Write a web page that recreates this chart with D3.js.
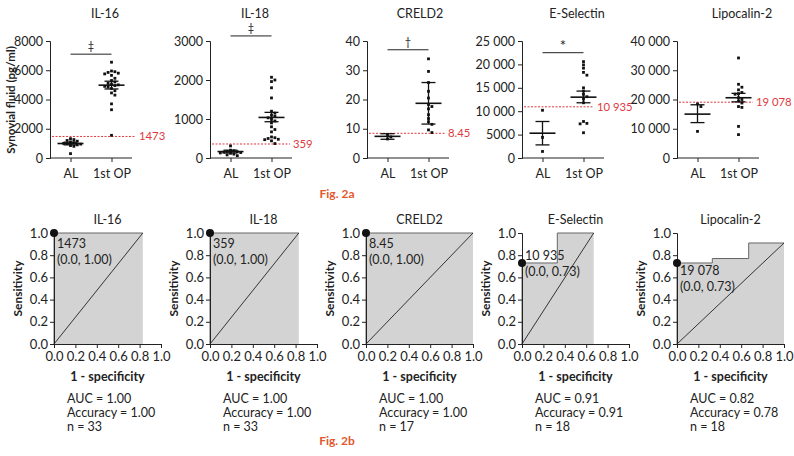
<!DOCTYPE html>
<html><head><meta charset="utf-8">
<script src="https://cdn.jsdelivr.net/npm/d3@7"></script>
<style>body{margin:0;background:#fff}svg{display:block}text{font-family:Lato,"Open Sans",sans-serif;fill:#222}</style>
</head><body><svg id="c" width="794" height="456"></svg>
<script>
// ---------- DATA ----------
const markers = ["IL-16","IL-18","CRELD2","E-Selectin","Lipocalin-2"];
const groups = ["AL","1st OP"];
const yMax = [8000,3000,40,25000,40000];
const yTicks = [[0,2000,4000,6000,8000],[0,1000,2000,3000],[0,10,20,30,40],[0,5000,10000,15000,20000,25000],[0,10000,20000,30000,40000]];
const alValues = [
  [1320,1260,1200,1150,1100,1050,1000,980,950,900,850,800,300],
  [310,200,185,170,160,150,140,130,120,100,80,60],
  [8.0,7.2,6.5],
  [10200,4400,1400],
  [18500,17600,9100]
];
const opValues = [
  [6550,5950,5900,5850,5800,5750,5650,5450,5300,5200,5100,5050,5000,4950,4900,4850,4750,4600,4450,4300,3700,3300,1550],
  [2070,2000,1960,1800,1540,1200,1150,1100,1070,1030,990,950,900,800,730,670,540,520,500,480,470,440,370],
  [33.9,29.6,25.8,22.8,20.5,18.3,17.6,16.8,14.8,13.5,12.4,11.5,9.6,8.7],
  [20600,19900,19200,18300,17700,15000,14300,13600,13100,12600,11800,7800,7400,7300,5400],
  [34200,25200,24200,23300,22400,22000,21800,20600,20000,19500,18800,17600,17300,10800,8000]
];
const alMean = [990,165,7.4,5300,15000];
const alLow  = [900,130,6.4,2800,12100];
const alHigh = [1080,200,8.3,7800,18200];
const opMean = [4980,1040,18.7,13000,20600];
const opLow  = [4720,930,11.6,11800,19200];
const opHigh = [5250,1170,25.8,14300,22100];
const cutoffs = [1473,359,8.45,10935,19078];
const cutoffLabels = ["1473","359","8.45","10 935","19 078"];
const sigMarks = ["‡","‡","†","*",""];
const sigY = [7100,3130,37,22500,null];

const rocFpr = [[0,0,0.83,0.83],[0,0,0.83,0.83],[0,0,1,1],[0,0,0.33,0.33,0.67,0.67],[0,0,0.33,0.33,0.67,0.67,1,1]];
const rocTpr = [[0,1,1,0],[0,1,1,0],[0,1,1,0],[0,0.73,0.73,1,1,0],[0,0.73,0.73,0.77,0.77,0.91,0.91,0]];
const optFpr = [0,0,0,0,0];
const optTpr = [1,1,1,0.73,0.73];
const optCoordLabels = ["(0.0, 1.00)","(0.0, 1.00)","(0.0, 1.00)","(0.0, 0.73)","(0.0, 0.73)"];
const rocTicks = [0,0.2,0.4,0.6,0.8,1.0];
const aucVals = ["1.00","1.00","1.00","0.91","0.82"];
const accVals = ["1.00","1.00","1.00","0.91","0.78"];
const nVals = [33,33,17,18,18];

// ---------- LAYOUT ----------
const svg = d3.select("#c");
const FONT = "Lato,'Open Sans',sans-serif";
const RED = "#e0383e", FIG = "#e4572e";
const topAxisX = [50,210,367,522,677];
const topTitleX = [105,255,420,577,742];
const cutLabelOff = [89,83,81,75,79];
const topY0 = 158, topY1 = 41, topW = 82;
const rocAxisX = [54,210,366,522,677];
const rocY0 = 344, rocY1 = 233, rocW = 107;
const labelDy = [11,11,11,-7,8];

function fmtNum(v){
  if (Math.abs(v) >= 10000) return d3.format(",")(v).replace(/,/g," ");
  return String(v);
}

markers.forEach((m,i)=>{
  const ax = topAxisX[i];
  const y = d3.scaleLinear().domain([0,yMax[i]]).range([topY0,topY1]);
  const x = d3.scalePoint().domain(groups).range([ax, ax+topW]).padding(0.5);
  const g = svg.append("g");
  g.append("text").attr("x",topTitleX[i]).attr("y",18).attr("text-anchor","middle").attr("font-size",12.5).text(m);
  const ya = d3.axisLeft(y).tickValues(yTicks[i]).tickSize(4).tickPadding(3).tickFormat(fmtNum);
  const yg = g.append("g").attr("transform",`translate(${ax},0)`).call(ya);
  yg.selectAll("text").attr("font-size",12.5).style("font-family",FONT).attr("fill","#222");
  yg.selectAll("line,path").attr("stroke","#222");
  const xa = d3.axisBottom(x).tickSize(4).tickPadding(7);
  const xg = g.append("g").attr("transform",`translate(0,${topY0})`).call(xa);
  xg.select("path").attr("d",`M${ax},0H${ax+topW}`).attr("stroke","#222");
  xg.selectAll("line").attr("stroke","#222");
  xg.selectAll("text").attr("font-size",12.5).style("font-family",FONT).attr("fill","#222");
  const lx = ax + cutLabelOff[i];
  g.append("line").attr("x1",ax+2).attr("x2",lx-3).attr("y1",y(cutoffs[i])).attr("y2",y(cutoffs[i]))
    .attr("stroke",RED).attr("stroke-width",1).attr("stroke-dasharray","2,1.5");
  g.append("text").attr("x",lx).attr("y",y(cutoffs[i])).attr("dy","0.35em").attr("font-size",11.3)
    .style("fill",RED).text(cutoffLabels[i]);
  [alValues[i],opValues[i]].forEach((vals,gi)=>{
    const cx = x(groups[gi]);
    const placed = [];
    const sorted = vals.slice().sort((a,b)=>b-a);
    sorted.forEach(v=>{
      const py = y(v);
      let off = 0;
      for (let k=0;k<30;k++){
        const cand = k===0?0:(k%2? 1:-1)*Math.ceil(k/2)*3.4;
        const hit = placed.some(p=>Math.abs(p.y-py)<3 && Math.abs(p.x-cand)<3.2);
        if(!hit){off=cand;break;}
      }
      placed.push({x:off,y:py});
      g.append("rect").attr("x",cx+off-1.4).attr("y",py-1.4).attr("width",2.8).attr("height",2.8).attr("fill","#111");
    });
    const mean = gi? opMean[i]:alMean[i], lo = gi?opLow[i]:alLow[i], hi = gi?opHigh[i]:alHigh[i];
    const s = "#111";
    g.append("line").attr("x1",cx-13).attr("x2",cx+13).attr("y1",y(mean)).attr("y2",y(mean)).attr("stroke",s).attr("stroke-width",1.6);
    g.append("line").attr("x1",cx).attr("x2",cx).attr("y1",y(lo)).attr("y2",y(hi)).attr("stroke",s).attr("stroke-width",1.3);
    [lo,hi].forEach(v=>g.append("line").attr("x1",cx-7).attr("x2",cx+7).attr("y1",y(v)).attr("y2",y(v)).attr("stroke",s).attr("stroke-width",1.3));
  });
  if (sigMarks[i]) {
    const by = y(sigY[i]);
    g.append("line").attr("x1",x("AL")).attr("x2",x("1st OP")).attr("y1",by).attr("y2",by).attr("stroke","#222").attr("stroke-width",1);
    const star = sigMarks[i]==="*";
    g.append("text").attr("x",(x("AL")+x("1st OP"))/2).attr("y",by-(star?2:4)).attr("text-anchor","middle")
      .attr("font-size",star?15:11).text(sigMarks[i]);
  }
});
svg.append("text").attr("transform","translate(15,100) rotate(-90)").attr("text-anchor","middle")
  .attr("font-size",11.5).attr("font-weight","bold").text("Synovial fluid (pg/ml)");
svg.append("text").attr("x",337).attr("y",198).attr("text-anchor","middle").attr("font-size",12)
  .attr("font-weight","bold").style("fill",FIG).text("Fig. 2a");

// ---------- ROC ----------
markers.forEach((m,i)=>{
  const ax = rocAxisX[i];
  const x = d3.scaleLinear().domain([0,1]).range([ax, ax+rocW]);
  const y = d3.scaleLinear().domain([0,1]).range([rocY0, rocY1]);
  const g = svg.append("g");
  const pts = rocFpr[i].map((f,k)=>[f,rocTpr[i][k]]);
  g.append("path").attr("d", d3.line().x(d=>x(d[0])).y(d=>y(d[1]))(pts)+"Z").attr("fill","#d3d3d3");
  g.append("path").attr("d", d3.line().x(d=>x(d[0])).y(d=>y(d[1]))(pts.slice(0,-1))).attr("fill","none").attr("stroke","#666").attr("stroke-width",1);
  const last = pts[pts.length-2];
  g.append("line").attr("x1",x(0)).attr("y1",y(0)).attr("x2",x(last[0])).attr("y2",y(last[1])).attr("stroke","#222").attr("stroke-width",0.9);
  const ya = d3.axisLeft(y).tickValues(rocTicks).tickSize(4).tickPadding(2).tickFormat(d3.format(".1f"));
  const yg = g.append("g").attr("transform",`translate(${ax},0)`).call(ya);
  const xa = d3.axisBottom(x).tickValues(rocTicks).tickSize(4).tickPadding(4).tickFormat(d3.format(".1f"));
  const xg = g.append("g").attr("transform",`translate(0,${rocY0})`).call(xa);
  [yg,xg].forEach(a=>{
    a.selectAll("text").attr("font-size",13).style("font-family",FONT).attr("fill","#222");
    a.selectAll("line,path").attr("stroke","#222");
  });
  g.append("circle").attr("cx",x(optFpr[i])).attr("cy",y(optTpr[i])).attr("r",4).attr("fill","#111");
  const ty = y(optTpr[i]) + labelDy[i];
  g.append("text").attr("x",ax+3).attr("y",ty).attr("dy","0.35em").attr("font-size",12.5).attr("fill","#333").text(cutoffLabels[i]);
  g.append("text").attr("x",ax+3).attr("y",ty+16).attr("dy","0.35em").attr("font-size",12.5).attr("fill","#333").text(optCoordLabels[i]);
  g.append("text").attr("x",ax+rocW/2).attr("y",224).attr("text-anchor","middle").attr("font-size",12.5).text(m);
  g.append("text").attr("transform",`translate(${ax-32},${(rocY0+rocY1)/2}) rotate(-90)`).attr("text-anchor","middle")
    .attr("font-size",12).attr("font-weight","bold").text("Sensitivity");
  g.append("text").attr("x",ax+rocW/2).attr("y",381).attr("text-anchor","middle").attr("font-size",12.5)
    .attr("font-weight","bold").text("1 - specificity");
  const lines = [`AUC = ${aucVals[i]}`,`Accuracy = ${accVals[i]}`,`n = ${nVals[i]}`];
  lines.forEach((t,k)=>g.append("text").attr("x",ax+13).attr("y",403+k*14).attr("font-size",12.5).text(t));
});
svg.append("text").attr("x",337).attr("y",445).attr("text-anchor","middle").attr("font-size",12)
  .attr("font-weight","bold").style("fill",FIG).text("Fig. 2b");
</script></body></html>
